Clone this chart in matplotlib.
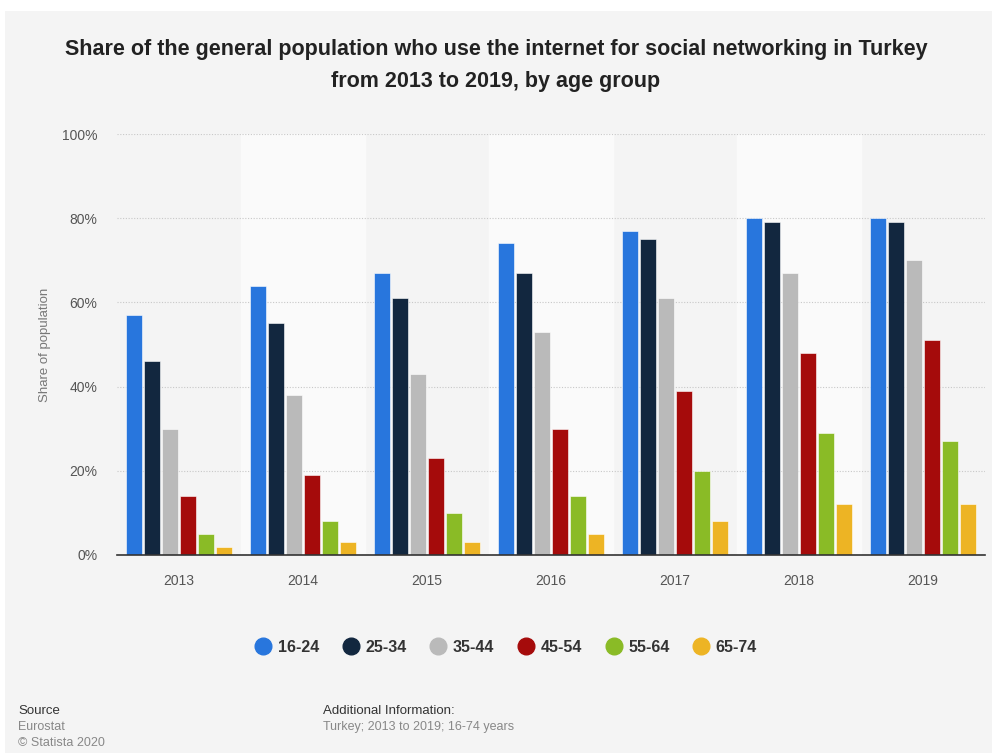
import numpy as np
import matplotlib.pyplot as plt
from matplotlib.patches import Rectangle
from matplotlib.lines import Line2D
from matplotlib.ticker import FuncFormatter

years = ['2013', '2014', '2015', '2016', '2017', '2018', '2019']
groups = ['16-24', '25-34', '35-44', '45-54', '55-64', '65-74']
colors = ['#2876dd', '#12273f', '#bababa', '#a50b0b', '#8abb26', '#edb424']

age_16_24 = [57, 64, 67, 74, 77, 80, 80]
age_25_34 = [46, 55, 61, 67, 75, 79, 79]
age_35_44 = [30, 38, 43, 53, 61, 67, 70]
age_45_54 = [14, 19, 23, 30, 39, 48, 51]
age_55_64 = [5, 8, 10, 14, 20, 29, 27]
age_65_74 = [2, 3, 3, 5, 8, 12, 12]
series = [age_16_24, age_25_34, age_35_44, age_45_54, age_55_64, age_65_74]

plt.rcParams['font.family'] = ['Liberation Sans', 'DejaVu Sans']

fig = plt.figure(figsize=(9.92, 7.53), dpi=100, facecolor='white')
# grey card behind everything
fig.patches.append(Rectangle((5/992, 0), 1, (753-11)/753, transform=fig.transFigure,
                             facecolor='#f4f4f4', edgecolor='none', zorder=-10))

ax = fig.add_axes([117/992, 1-555/753, 868/992, 421/753])
ax.set_facecolor('none')

x = np.arange(len(years))
pitch = 0.145
for i, (vals, c) in enumerate(zip(series, colors)):
    ax.bar(x + (i - 2.5)*pitch, vals, width=pitch*0.9, color=c,
           edgecolor='white', linewidth=0.4, zorder=3, label=groups[i])

# alternating column bands
for k in range(len(years)):
    if k % 2 == 1:
        ax.axvspan(k-0.5, k+0.5, color='#fafafa', zorder=0)

ax.set_xlim(-0.5, len(years)-0.5)
ax.set_ylim(0, 100)
ax.set_yticks([0, 20, 40, 60, 80, 100])
ax.yaxis.set_major_formatter(FuncFormatter(lambda v, p: '%d%%' % v))
ax.set_xticks(x)
ax.set_xticklabels(years)
ax.grid(axis='y', color='#c8c8c8', linestyle=(0, (1, 1.5)), linewidth=0.8, zorder=1)
for s in ['top', 'right', 'left']:
    ax.spines[s].set_visible(False)
ax.spines['bottom'].set_color('#333333')
ax.spines['bottom'].set_linewidth(1.2)
ax.spines['bottom'].set_zorder(4)
ax.tick_params(axis='both', length=0, colors='#555555', labelsize=10)
ax.tick_params(axis='x', pad=14)
ax.tick_params(axis='y', pad=14)
ax.set_ylabel('Share of population', color='#777777', fontsize=9.5, labelpad=8)

fig.text(0.5, 1-49/753, 'Share of the general population who use the internet for social networking in Turkey',
         ha='center', va='center', fontsize=15.5, fontweight='bold', color='#222222')
fig.text(0.5, 1-82/753, 'from 2013 to 2019, by age group',
         ha='center', va='center', fontsize=15.5, fontweight='bold', color='#222222')

# round legend markers
handles = [Line2D([], [], marker='o', linestyle='', markersize=12, color=c) for c in colors]
leg = fig.legend(handles, groups, loc='center', bbox_to_anchor=(0.511, 1-647/753),
                 ncol=6, frameon=False, handlelength=0.8, columnspacing=1.6,
                 handletextpad=0.5, prop={'weight': 'bold', 'size': 11.5})
for t in leg.get_texts():
    t.set_color('#333333')

fig.text(18/992, 1-711/753, 'Source', fontsize=9.5, color='#333333', va='center')
fig.text(18/992, 1-727/753, 'Eurostat', fontsize=9, color='#888888', va='center')
fig.text(18/992, 1-743/753, '\u00a9 Statista 2020', fontsize=9, color='#888888', va='center')
fig.text(323/992, 1-711/753, 'Additional Information:', fontsize=9.5, color='#333333', va='center')
fig.text(323/992, 1-727/753, 'Turkey; 2013 to 2019; 16-74 years', fontsize=9, color='#888888', va='center')

fig.savefig('out.png', dpi=100, facecolor=fig.get_facecolor())
